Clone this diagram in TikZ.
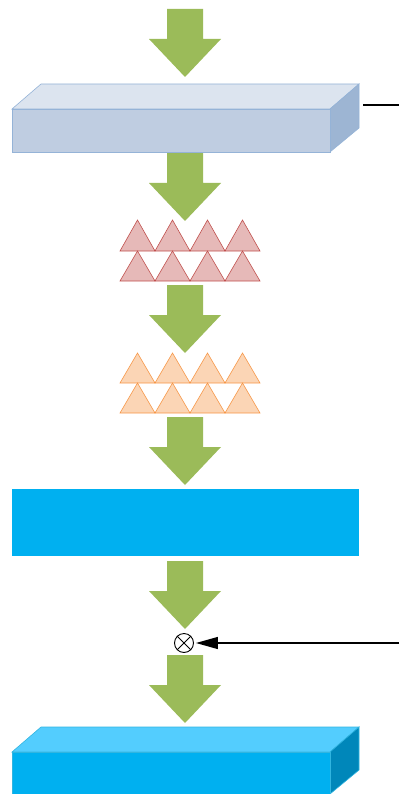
\documentclass[tikz,border=0pt]{standalone}
\usetikzlibrary{arrows.meta}
\definecolor{arrowgreen}{HTML}{9BBB59}
\definecolor{boxtop}{HTML}{DCE4EF}
\definecolor{boxfront}{HTML}{BFCDE1}
\definecolor{boxside}{HTML}{9DB5D3}
\definecolor{boxedge}{HTML}{95B3D7}
\definecolor{redfill}{HTML}{E6B9B8}
\definecolor{redline}{HTML}{C0504D}
\definecolor{orfill}{HTML}{FBD5B5}
\definecolor{orline}{HTML}{F79646}
\definecolor{cyanfront}{HTML}{00B0F0}
\definecolor{cyantop}{HTML}{53CDFE}
\definecolor{cyanside}{HTML}{0087BA}
\definecolor{cyanedge}{HTML}{31B5E0}
\tikzset{
  garrow/.pic={
    \fill[arrowgreen] (-18,0) -- (18,0) -- (18,30) -- (36,30) -- (0,68) -- (-36,30) -- (-18,30) -- cycle;
  },
  redtri/.style={fill=redfill,draw=redline,line width=0.6pt,line join=miter},
  ortri/.style={fill=orfill,draw=orline,line width=0.6pt,line join=miter},
}
\begin{document}
\begin{tikzpicture}[x=1pt,y=-1pt]
\useasboundingbox (0,0) rectangle (399,794);
\begin{scope}
\clip (0,0) rectangle (399,794);
% arrows
\pic at (185,9) {garrow};
\pic at (185,153) {garrow};
\pic at (185,285) {garrow};
\pic at (185,417) {garrow};
\pic at (185,561) {garrow};
\pic at (185,655) {garrow};
% box 1
\fill[boxtop,draw=boxedge,line width=0.6pt] (12,109) -- (41,84) -- (359,84) -- (330,109) -- cycle;
\fill[boxside,draw=boxedge,line width=0.6pt] (330,109) -- (359,84) -- (359,128) -- (330,152) -- cycle;
\node[draw=boxedge,fill=boxfront,line width=0.6pt,minimum width=318pt,minimum height=43pt,inner sep=0,anchor=north west] (box1) at (12,109) {};
\coordinate (e1) at (399,105);
\draw[line width=1.3pt] (363,105) -- (e1);
% red triangles
\foreach \i in {0,1,2,3}{
  \path[redtri] (120+35*\i,251) -- (137.5+35*\i,220) -- (155+35*\i,251) -- cycle;
  \path[redtri] (120+35*\i,281) -- (137.5+35*\i,251) -- (155+35*\i,281) -- cycle;
  \path[ortri] (120+35*\i,383) -- (137.5+35*\i,353) -- (155+35*\i,383) -- cycle;
  \path[ortri] (120+35*\i,413) -- (137.5+35*\i,383) -- (155+35*\i,413) -- cycle;
}
% blue rectangle
\node[fill=cyanfront,minimum width=347pt,minimum height=67pt,inner sep=0,anchor=north west] (blue) at (12,489) {};
% multiply
\node[circle,draw,line width=0.9pt,minimum size=19pt,inner sep=0] (mul) at (184,643) {};
\draw[line width=0.9pt] (mul.north west) -- (mul.south east) (mul.north east) -- (mul.south west);
\coordinate (e2) at (399,643);
\draw[line width=1.3pt,-{Triangle[length=22pt,width=12pt]}] (e2) -- ([xshift=2pt]mul.east);
% box 2
\fill[cyantop,draw=cyanedge,line width=0.6pt] (12,752) -- (41,727) -- (359,727) -- (330,752) -- cycle;
\fill[cyanside,draw=cyanedge,line width=0.6pt] (330,752) -- (359,727) -- (359,770) -- (330,794) -- cycle;
\node[fill=cyanfront,draw=cyanedge,line width=0.6pt,minimum width=318pt,minimum height=50pt,inner sep=0,anchor=north west] (box2) at (12,752) {};
\end{scope}
\end{tikzpicture}
\end{document}
